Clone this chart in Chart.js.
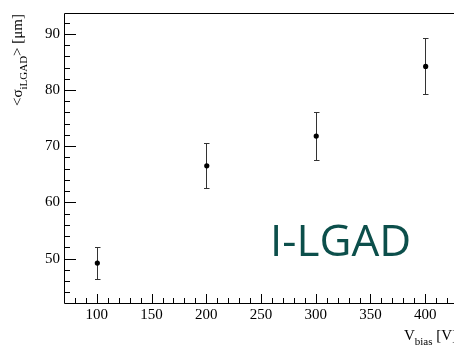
<!DOCTYPE html>
<html>
<head>
<meta charset="utf-8">
<script src="https://cdn.jsdelivr.net/npm/chart.js@4.4.1/dist/chart.umd.min.js"></script>
<style>
  html, body { margin: 0; padding: 0; background: #fff; overflow: hidden; width: 454px; height: 348px; }
  #wrap { width: 470px; height: 348px; }
</style>
</head>
<body>
<div id="wrap"><canvas id="c" width="470" height="348"></canvas></div>
<script>
// ---- data ----
const vbias = [100, 200, 300, 400];
const sigma = [49.2, 66.5, 71.8, 84.2];
const sigmaErr = [2.9, 4.0, 4.3, 5.0];
const xTickLabels = [100, 150, 200, 250, 300, 350, 400];
const yTickLabels = [50, 60, 70, 80, 90];
const xRange = [70, 430];
const yRange = [42.1, 93.7];
const labelText = 'I-LGAD';

const SERIF = "'Liberation Serif', 'DejaVu Serif', serif";
Chart.defaults.font.family = SERIF;

function drawRich(ctx, parts, x, y, align, size) {
  const subSize = Math.round(size * 0.7);
  let total = 0;
  const widths = parts.map(p => {
    ctx.font = (p.sub ? subSize : size) + 'px ' + SERIF;
    const w = ctx.measureText(p.t).width;
    total += w;
    return w;
  });
  let cx = align === 'right' ? x - total : x;
  parts.forEach((p, i) => {
    ctx.font = (p.sub ? subSize : size) + 'px ' + SERIF;
    ctx.textAlign = 'left';
    ctx.textBaseline = 'alphabetic';
    ctx.fillText(p.t, cx, y + (p.sub ? size * 0.3 : 0));
    cx += widths[i];
  });
}

const framePlugin = {
  id: 'framePlugin',
  afterDraw(chart) {
    const ctx = chart.ctx;
    const a = chart.chartArea;
    const xs = chart.scales.x, ys = chart.scales.y;
    ctx.save();
    ctx.strokeStyle = '#000';
    ctx.lineWidth = 1;
    // frame
    ctx.beginPath();
    ctx.moveTo(a.left + 0.5, a.bottom + 0.5);
    ctx.lineTo(a.left + 0.5, a.top + 0.5);
    ctx.lineTo(a.right + 0.5, a.top + 0.5);
    ctx.lineTo(a.right + 0.5, a.bottom + 0.5);
    ctx.closePath();
    ctx.stroke();
    // x ticks (inside)
    ctx.beginPath();
    for (let v = xRange[0]; v <= xRange[1] + 1e-9; v += 10) {
      const px = Math.round(xs.getPixelForValue(v)) + 0.5;
      const major = Math.abs(v % 50) < 1e-6;
      const len = major ? 9 : 5;
      ctx.moveTo(px, a.bottom);
      ctx.lineTo(px, a.bottom - len);
    }
    // y ticks (inside)
    for (let v = 44; v <= yRange[1]; v += 2) {
      const py = Math.round(ys.getPixelForValue(v)) + 0.5;
      const major = Math.abs(v % 10) < 1e-6;
      const len = major ? 12 : 6;
      ctx.moveTo(a.left, py);
      ctx.lineTo(a.left + len, py);
    }
    ctx.stroke();

    // error bars
    ctx.strokeStyle = '#333';
    ctx.beginPath();
    vbias.forEach((v, i) => {
      const px = Math.round(xs.getPixelForValue(v)) + 0.5;
      const yT = Math.round(ys.getPixelForValue(sigma[i] + sigmaErr[i])) + 0.5;
      const yB = Math.round(ys.getPixelForValue(sigma[i] - sigmaErr[i])) + 0.5;
      ctx.moveTo(px, yT); ctx.lineTo(px, yB);
      ctx.moveTo(px - 2.5, yT); ctx.lineTo(px + 3, yT);
      ctx.moveTo(px - 2.5, yB); ctx.lineTo(px + 3, yB);
    });
    ctx.stroke();
    // markers on top
    ctx.fillStyle = '#000';
    vbias.forEach((v, i) => {
      ctx.beginPath();
      ctx.arc(xs.getPixelForValue(v) + 0.5, ys.getPixelForValue(sigma[i]), 2.6, 0, Math.PI * 2);
      ctx.fill();
    });

    // axis titles
    ctx.fillStyle = '#000';
    drawRich(ctx, [{t: 'V'}, {t: 'bias', sub: true}, {t: ' [V]'}], 457, 340, 'right', 15);
    ctx.save();
    ctx.translate(22, 14);
    ctx.rotate(-Math.PI / 2);
    drawRich(ctx, [{t: '<\u03c3'}, {t: 'iLGAD', sub: true}, {t: '> [\u03bcm]'}], 0, 0, 'right', 15);
    ctx.restore();

    // I-LGAD label
    ctx.fillStyle = '#0c4f4b';
    ctx.font = "44px 'Open Sans', sans-serif";
    ctx.textAlign = 'left';
    ctx.textBaseline = 'alphabetic';
    ctx.fillText(labelText, 270, 256);
    ctx.restore();
  }
};

new Chart(document.getElementById('c'), {
  type: 'scatter',
  data: {
    datasets: [{
      data: vbias.map((v, i) => ({x: v, y: sigma[i]})),
      pointRadius: 0,
      showLine: false
    }]
  },
  options: {
    responsive: false,
    animation: false,
    events: [],
    layout: { padding: { top: 8, right: 12, left: 0, bottom: 0 } },
    plugins: { legend: { display: false }, tooltip: { enabled: false } },
    scales: {
      x: {
        type: 'linear', min: xRange[0], max: xRange[1],
        grid: { display: false, drawTicks: false },
        border: { display: false },
        afterBuildTicks: s => { s.ticks = xTickLabels.map(v => ({value: v})); },
        afterFit: s => { s.height = 45; },
        ticks: { font: { family: SERIF, size: 15 }, color: '#000', padding: 3, maxRotation: 0, autoSkip: false }
      },
      y: {
        type: 'linear', min: yRange[0], max: yRange[1],
        grid: { display: false, drawTicks: false },
        border: { display: false },
        afterBuildTicks: s => { s.ticks = yTickLabels.map(v => ({value: v})); },
        afterFit: s => { s.width = 64; },
        ticks: { font: { family: SERIF, size: 15 }, color: '#000', padding: 4, autoSkip: false }
      }
    }
  },
  plugins: [framePlugin]
});
</script>
</body>
</html>
